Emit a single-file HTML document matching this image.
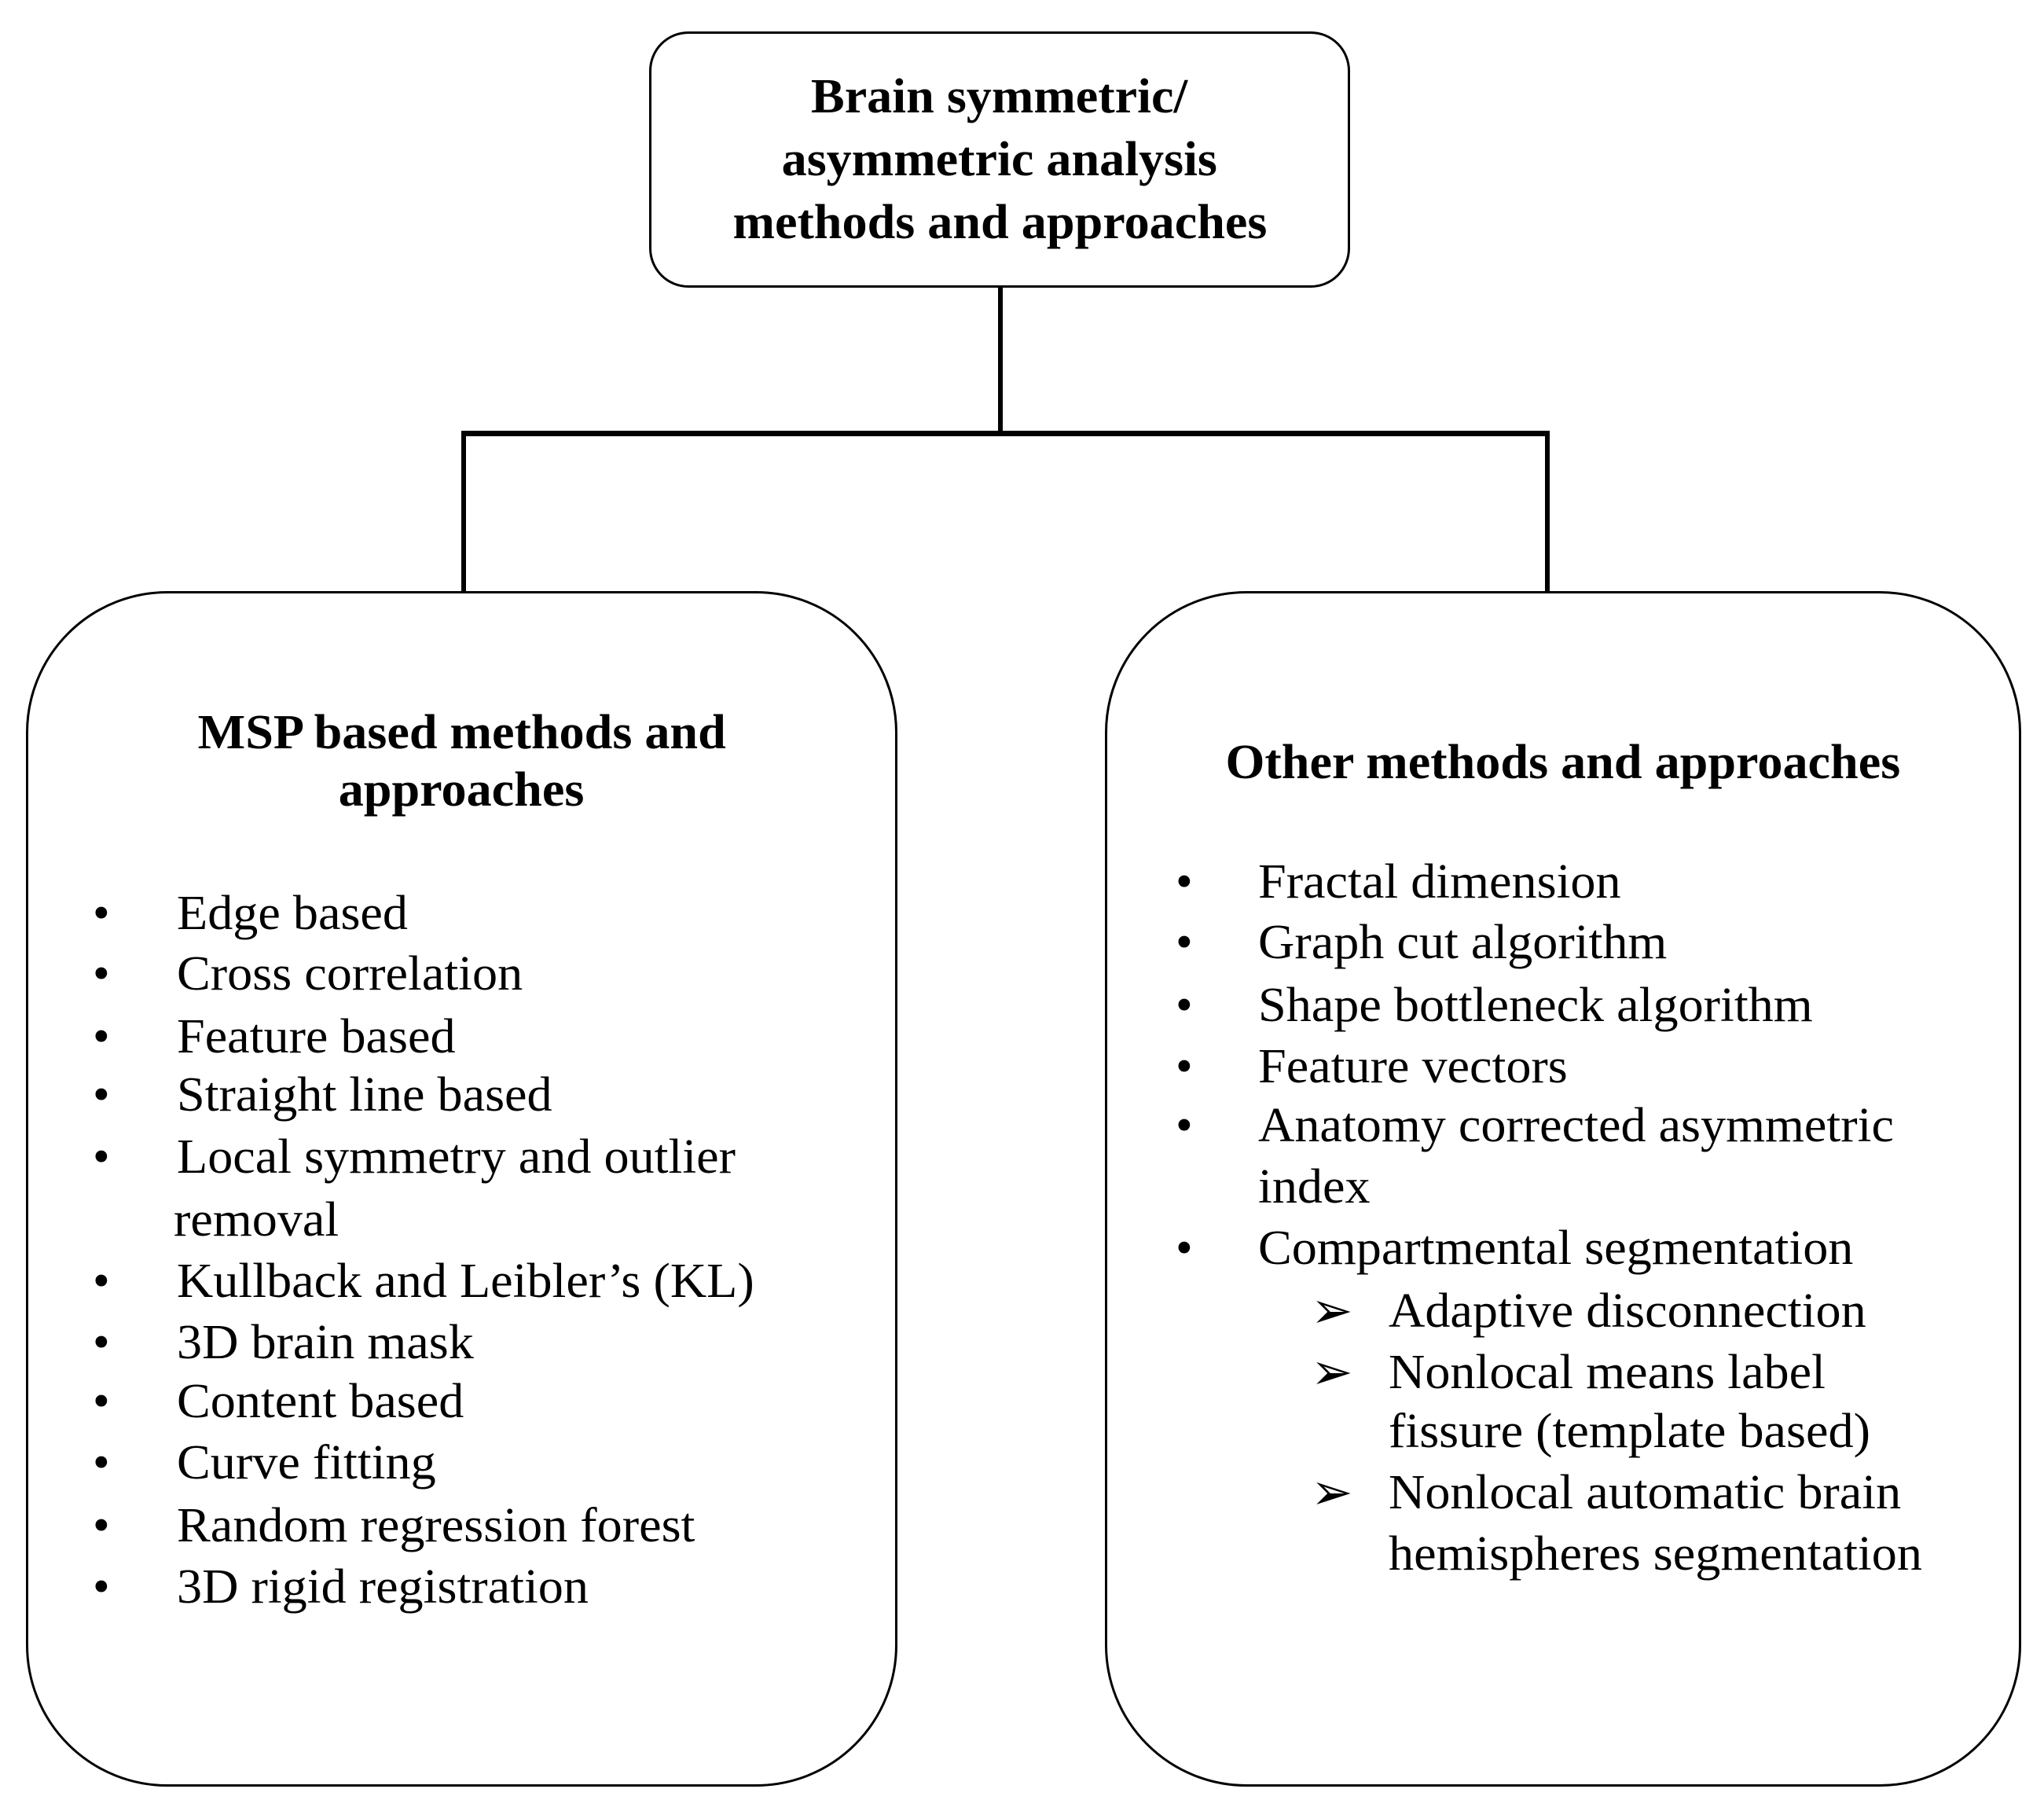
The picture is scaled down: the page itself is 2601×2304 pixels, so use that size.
<!DOCTYPE html>
<html><head><meta charset="utf-8"><style>
html,body{margin:0;padding:0;background:#fff;}
body{width:2601px;height:2304px;position:relative;overflow:hidden;font-family:"Liberation Serif",serif;color:#000;}
.box{position:absolute;border:3px solid #000;box-sizing:border-box;background:#fff;}
.ln{position:absolute;background:#000;}
.t{position:absolute;font-size:62px;line-height:78px;white-space:nowrap;}
.b{font-weight:bold;}
.c{text-align:center;}
.s{display:inline-block;transform:scaleX(1.035);transform-origin:left center;}
.c .s{transform-origin:center center;}
.dot{position:absolute;font-size:62px;line-height:78px;}
.arr{position:absolute;font-family:"DejaVu Sans",sans-serif;font-size:64px;line-height:78px;}
</style></head><body>
<div class="box" style="left:826px;top:40px;width:892px;height:326px;border-radius:50px;"></div>
<div class="ln" style="left:1270px;top:366px;width:6px;height:188px;"></div>
<div class="ln" style="left:587px;top:548px;width:1385px;height:7px;"></div>
<div class="ln" style="left:587px;top:548px;width:6px;height:206px;"></div>
<div class="ln" style="left:1966px;top:548px;width:6px;height:206px;"></div>
<div class="box" style="left:33px;top:752px;width:1109px;height:1521px;border-radius:180px;"></div>
<div class="box" style="left:1406px;top:752px;width:1166px;height:1521px;border-radius:180px;"></div>

<div class="t b c" style="left:826px;width:892px;top:84px;"><span class="s">Brain symmetric/</span></div>
<div class="t b c" style="left:826px;width:892px;top:164px;"><span class="s">asymmetric analysis</span></div>
<div class="t b c" style="left:826px;width:892px;top:244px;"><span class="s">methods and approaches</span></div>

<div class="t b c" style="left:33px;width:1109px;top:893px;"><span class="s">MSP based methods and</span></div>
<div class="t b c" style="left:33px;width:1109px;top:966px;"><span class="s">approaches</span></div>
<div class="t b c" style="left:1406px;width:1166px;top:931px;"><span class="s">Other methods and approaches</span></div>

<div class="dot" style="left:118px;top:1123px">•</div><div class="t" style="left:225px;top:1123px"><span class="s">Edge based</span></div>
<div class="dot" style="left:118px;top:1200px">•</div><div class="t" style="left:225px;top:1200px"><span class="s">Cross correlation</span></div>
<div class="dot" style="left:118px;top:1280px">•</div><div class="t" style="left:225px;top:1280px"><span class="s">Feature based</span></div>
<div class="dot" style="left:118px;top:1354px">•</div><div class="t" style="left:225px;top:1354px"><span class="s">Straight line based</span></div>
<div class="dot" style="left:118px;top:1433px">•</div><div class="t" style="left:225px;top:1433px"><span class="s">Local symmetry and outlier</span></div>
<div class="t" style="left:221px;top:1513px"><span class="s">removal</span></div>
<div class="dot" style="left:118px;top:1591px">•</div><div class="t" style="left:225px;top:1591px"><span class="s">Kullback and Leibler’s (KL)</span></div>
<div class="dot" style="left:118px;top:1669px">•</div><div class="t" style="left:225px;top:1669px"><span class="s">3D brain mask</span></div>
<div class="dot" style="left:118px;top:1744px">•</div><div class="t" style="left:225px;top:1744px"><span class="s">Content based</span></div>
<div class="dot" style="left:118px;top:1822px">•</div><div class="t" style="left:225px;top:1822px"><span class="s">Curve fitting</span></div>
<div class="dot" style="left:118px;top:1902px">•</div><div class="t" style="left:225px;top:1902px"><span class="s">Random regression forest</span></div>
<div class="dot" style="left:118px;top:1980px">•</div><div class="t" style="left:225px;top:1980px"><span class="s">3D rigid registration</span></div>

<div class="dot" style="left:1496px;top:1083px">•</div><div class="t" style="left:1601px;top:1083px"><span class="s">Fractal dimension</span></div>
<div class="dot" style="left:1496px;top:1160px">•</div><div class="t" style="left:1601px;top:1160px"><span class="s">Graph cut algorithm</span></div>
<div class="dot" style="left:1496px;top:1240px">•</div><div class="t" style="left:1601px;top:1240px"><span class="s">Shape bottleneck algorithm</span></div>
<div class="dot" style="left:1496px;top:1318px">•</div><div class="t" style="left:1601px;top:1318px"><span class="s">Feature vectors</span></div>
<div class="dot" style="left:1496px;top:1393px">•</div><div class="t" style="left:1601px;top:1393px"><span class="s">Anatomy corrected asymmetric</span></div>
<div class="t" style="left:1601px;top:1471px"><span class="s">index</span></div>
<div class="dot" style="left:1496px;top:1549px">•</div><div class="t" style="left:1601px;top:1549px"><span class="s">Compartmental segmentation</span></div>
<div class="arr" style="left:1668px;top:1629px">➢</div><div class="t" style="left:1767px;top:1629px"><span class="s">Adaptive disconnection</span></div>
<div class="arr" style="left:1668px;top:1707px">➢</div><div class="t" style="left:1767px;top:1707px"><span class="s">Nonlocal means label</span></div>
<div class="t" style="left:1767px;top:1782px"><span class="s">fissure (template based)</span></div>
<div class="arr" style="left:1668px;top:1860px">➢</div><div class="t" style="left:1767px;top:1860px"><span class="s">Nonlocal automatic brain</span></div>
<div class="t" style="left:1767px;top:1938px"><span class="s">hemispheres segmentation</span></div>
</body></html>
